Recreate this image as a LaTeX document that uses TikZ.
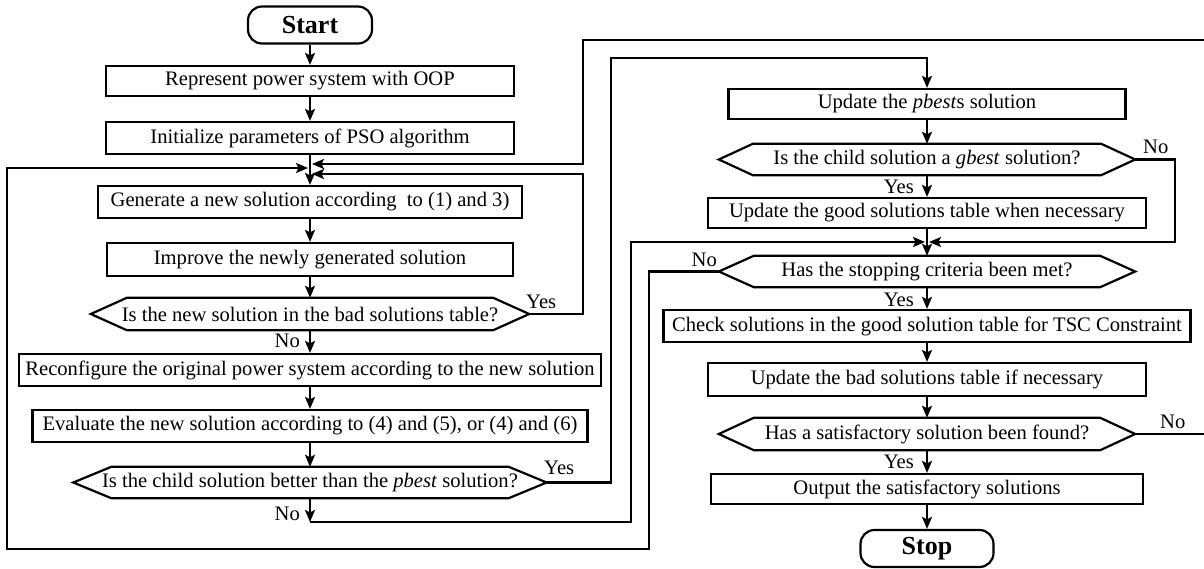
\documentclass[tikz,border=0pt]{standalone}
\usepackage{fontspec}
\setmainfont{Liberation Serif}
\usetikzlibrary{arrows.meta,calc}
\newcommand\hexdraw[2]{\draw[ln,line join=miter] ($(#1.north west)+(#2,0)$) -- ($(#1.north east)+(-#2,0)$) -- (#1.east) -- ($(#1.south east)+(-#2,0)$) -- ($(#1.south west)+(#2,0)$) -- (#1.west) -- cycle;}
\begin{document}
\begin{tikzpicture}[x=1pt,y=-1pt,
  every node/.style={font=\fontsize{20.6}{24}\selectfont,inner sep=0pt},
  ln/.style={line width=2.2pt},
  arr/.style={line width=2.2pt,-{Stealth[length=12pt,width=10pt,inset=2.5pt]}},
  bx/.style={draw,line width=2.2pt,rectangle,minimum width=#1,minimum height=32pt},
  hx/.style={minimum width=#1,minimum height=32pt},
  term/.style={draw,line width=2.2pt,rounded corners=14pt,minimum width=#1,minimum height=37pt}]
\useasboundingbox (0,0) rectangle (1204,569);
% left column
\node[term=124] (start) at (310,25) {\bfseries\fontsize{26}{28}\selectfont Start};
\node[bx=408,minimum height=30pt] (rep) at (310,81) {Represent power system with OOP};
\node[bx=408] (init) at (310,138) {Initialize parameters of PSO algorithm};
\node[bx=424] (gen) at (310,202) {Generate a new solution according~ to (1) and 3)};
\node[bx=406,minimum height=33pt] (imp) at (310,259.5) {Improve the newly generated solution};
\node[hx=438] (d1) at (310,314) {Is the new solution in the bad solutions table?};
\hexdraw{d1}{36}
\node[bx=582] (rec) at (310,370) {Reconfigure the original power system according to the new solution};
\node[bx=555] (eva) at (310,426) {Evaluate the new solution according to (4) and (5), or (4) and (6)};
\node[hx=473,minimum height=31pt] (d2) at (310,482.5) {Is the child solution better than the \textit{pbest} solution?};
\hexdraw{d2}{38}
% right column
\node[bx=397,minimum height=30pt] (upb) at (927,104) {Update the \textit{pbest}s solution};
\node[hx=416,minimum height=31pt] (dg) at (927,159.5) {Is the child solution a \textit{gbest} solution?};
\hexdraw{dg}{34}
\node[bx=438,minimum height=30pt] (upg) at (927,213) {Update the good solutions table when necessary};
\node[hx=416,minimum height=31pt] (ds) at (927,271.5) {Has the stopping criteria been met?};
\hexdraw{ds}{35}
\node[bx=527] (chk) at (927,326) {Check solutions in the good solution table for TSC Constraint};
\node[bx=438,minimum height=33pt] (upbad) at (927,379.5) {Update the bad solutions table if necessary};
\node[hx=416] (dsat) at (927,434) {Has a satisfactory solution been found?};
\hexdraw{dsat}{35}
\node[bx=432,minimum height=30pt] (out) at (927,489) {Output the satisfactory solutions};
\node[term=133] (stop) at (927,548.5) {\bfseries\fontsize{26}{28}\selectfont Stop};
% junction coordinates
\coordinate (jL) at (308,168);
\coordinate (jR1) at (312,164);
\coordinate (jR2) at (312,174);
\coordinate (jN) at (310,522);
\coordinate (jS1) at (925,242);
\coordinate (jS2) at (929,242);
% straight arrows
\draw[arr] (start) -- (rep);
\draw[arr] (rep) -- (init);
\draw[arr] (init) -- (gen);
\draw[arr] (gen) -- (imp);
\draw[arr] (imp) -- (d1);
\draw[arr] (d1) -- (rec);
\draw[arr] (rec) -- (eva);
\draw[arr] (eva) -- (d2);
\draw[arr] (upb) -- (dg);
\draw[arr] (dg) -- (upg);
\draw[arr] (upg) -- (ds);
\draw[arr] (ds) -- (chk);
\draw[arr] (chk) -- (upbad);
\draw[arr] (upbad) -- (dsat);
\draw[arr] (dsat) -- (out);
\draw[arr] (out) -- (stop);
% loops
\draw[arr] (d1.east) -| (583,174) -- (jR2);
\draw[arr] (dsat.east) -| (1208,40) -| (583,164) -- (jR1);
\draw[arr] (ds.west) -| (649,549) -| (7,168) -- (jL);
\draw[arr] (d2.east) -| (611,58) -| (upb.north);
\draw[arr] (d2.south) -- (jN);
\draw[arr] (jN) -| (631,242) -- (jS1);
\draw[arr] (dg.east) -| (1175,242) -- (jS2);
% labels
\node[anchor=base west] (y1) at (526,308) {Yes};
\node[anchor=base east] (n1) at (300,347) {No};
\node[anchor=base west] (y2) at (544,474) {Yes};
\node[anchor=base east] (n2) at (300,520) {No};
\node[anchor=base west] (n3) at (1143,154) {No};
\node[anchor=base east] (y3) at (914,194) {Yes};
\node[anchor=base east] (n4) at (717,267) {No};
\node[anchor=base east] (y4) at (914,306) {Yes};
\node[anchor=base west] (n5) at (1160,428) {No};
\node[anchor=base east] (y5) at (914,468) {Yes};
\end{tikzpicture}
\end{document}
